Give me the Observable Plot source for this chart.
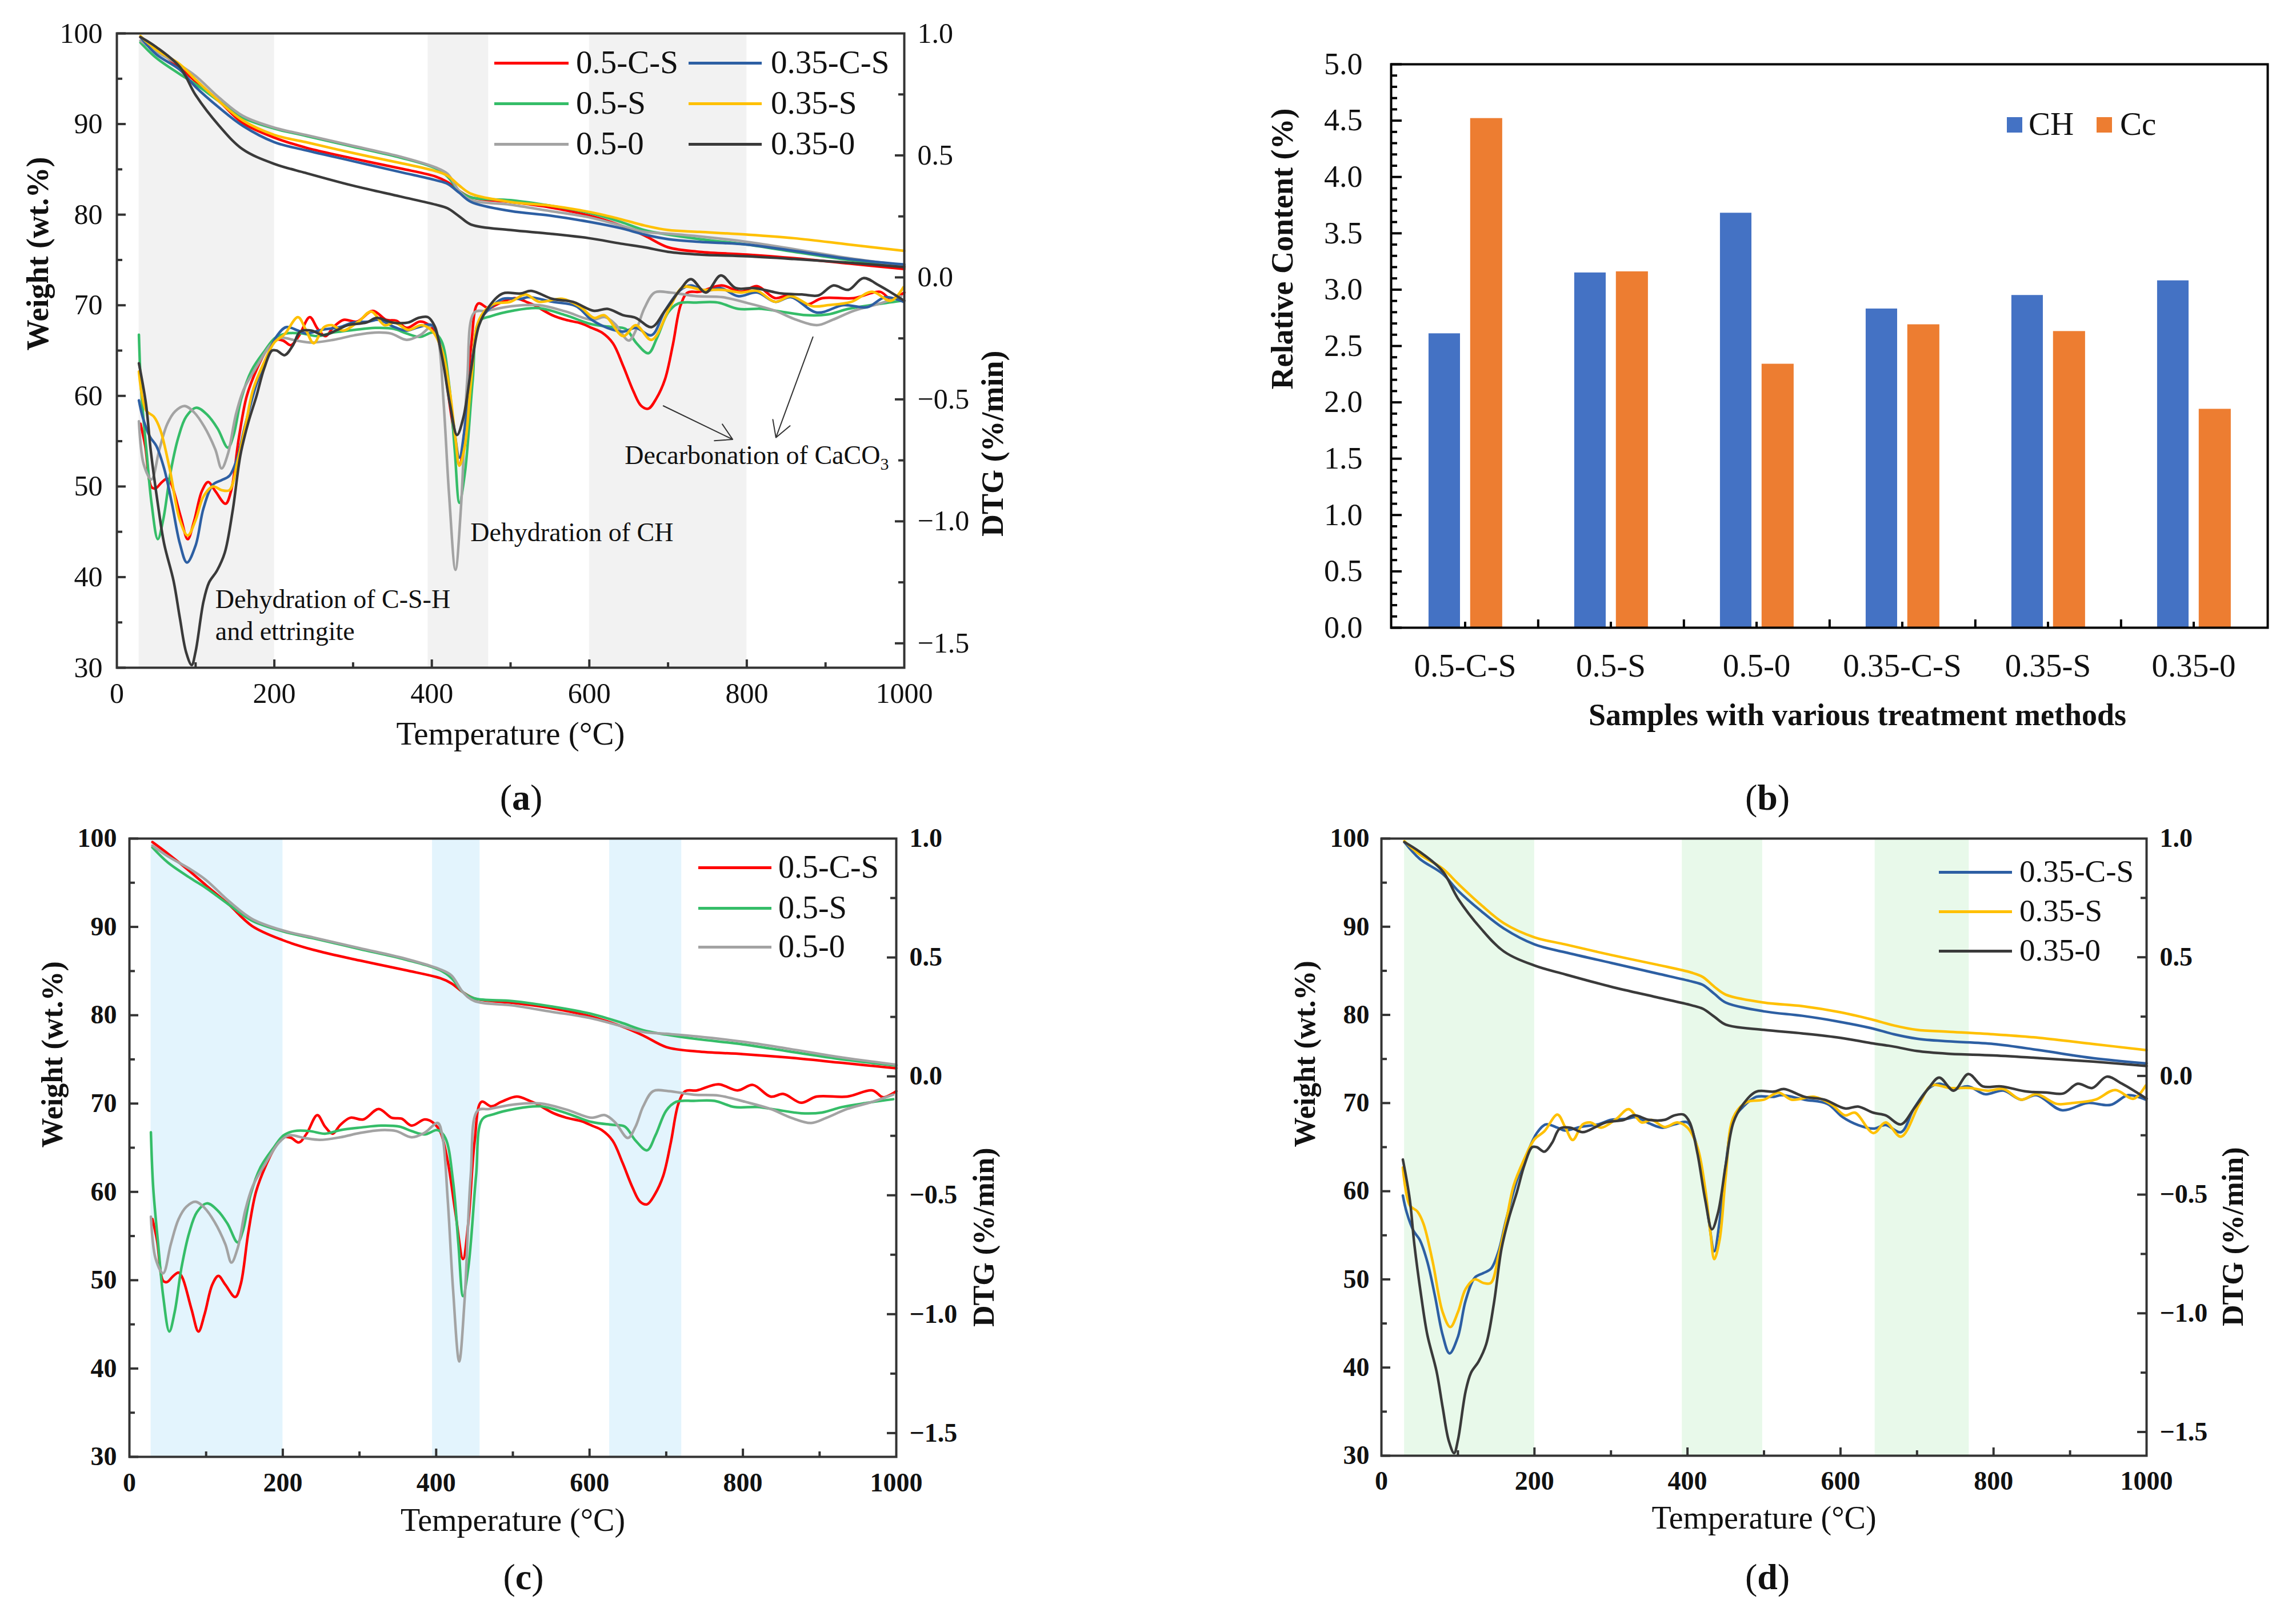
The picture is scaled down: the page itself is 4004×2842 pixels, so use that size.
<!DOCTYPE html>
<html>
<head>
<meta charset="utf-8">
<script src="https://cdn.jsdelivr.net/npm/d3@7"></script>
<script src="https://cdn.jsdelivr.net/npm/@observablehq/plot@0.6"></script>
<style>
  body { margin: 0; background: #fff; }
  #page { position: relative; width: 4004px; height: 2842px; overflow: hidden;
          font-family: "Liberation Serif", "Times New Roman", serif; color: #111; background: #fff; }
  .panel { position: absolute; }
  .key { position: absolute; white-space: nowrap; }
</style>
</head>
<body>
<div id="page"></div>
<script>
// ---- TG curves (wt.%), read on a shared temperature grid (°C)
const tgTemps = [30, 50, 80, 100, 130, 160, 200, 240, 300, 360, 405, 420, 435, 450, 500, 550, 600, 640, 670, 700, 740, 800, 860, 930, 1000];
const tg_05CS  = [99.6, 98.3, 96.2, 94.7, 92.5, 90.1, 88.5, 87.4, 86.2, 85.1, 84.2, 83.6, 82.6, 81.9, 81.4, 80.8, 79.9, 78.8, 77.7, 76.4, 75.9, 75.6, 75.2, 74.6, 74.0];
const tg_05S   = [99.0, 97.3, 95.5, 94.4, 92.5, 90.7, 89.5, 88.7, 87.5, 86.3, 85.1, 84.2, 82.6, 81.9, 81.6, 81.0, 80.2, 79.2, 78.3, 77.8, 77.3, 76.7, 75.9, 75.0, 74.3];
const tg_050   = [99.2, 98.0, 96.5, 95.3, 92.9, 90.9, 89.6, 88.8, 87.6, 86.4, 85.2, 84.5, 82.6, 81.6, 81.1, 80.4, 79.7, 78.8, 78.1, 77.9, 77.6, 77.0, 76.2, 75.2, 74.4];
const tg_035CS = [99.6, 97.7, 96.0, 94.1, 91.8, 89.8, 88.0, 87.1, 85.9, 84.7, 83.8, 83.4, 82.4, 81.4, 80.4, 79.9, 79.2, 78.5, 77.8, 77.3, 77.0, 76.7, 76.0, 75.1, 74.5];
const tg_035S  = [99.7, 98.2, 96.6, 94.9, 92.5, 90.4, 88.8, 88.0, 86.8, 85.7, 84.8, 84.3, 83.2, 82.3, 81.4, 81.0, 80.3, 79.5, 78.8, 78.3, 78.1, 77.8, 77.4, 76.7, 76.0];
const tg_0350  = [99.6, 98.5, 96.3, 93.2, 89.8, 87.2, 85.6, 84.6, 83.2, 82.0, 81.1, 80.7, 79.8, 78.9, 78.3, 77.9, 77.4, 76.8, 76.4, 75.9, 75.6, 75.4, 75.1, 74.7, 74.2];

// ---- DTG curves, [temperature °C, DTG %/min]
const dtg_05CS = [[30,-0.6],[36,-0.69],[44,-0.86],[49,-0.865],[57,-0.84],[64,-0.825],[69,-0.846],[81,-0.98],[90,-1.073],[98,-1.0],[108,-0.876],[116,-0.839],[125,-0.876],[138,-0.928],[145,-0.876],[155,-0.657],[165,-0.486],[178,-0.374],[191,-0.293],[201,-0.256],[211,-0.259],[221,-0.278],[231,-0.241],[245,-0.163],[255,-0.211],[265,-0.241],[275,-0.204],[288,-0.174],[305,-0.181],[325,-0.137],[342,-0.174],[355,-0.178],[368,-0.207],[385,-0.181],[395,-0.192],[405,-0.23],[415,-0.356],[425,-0.571],[435,-0.768],[442,-0.612],[450,-0.278],[459,-0.107],[472,-0.126],[485,-0.107],[505,-0.085],[522,-0.103],[530,-0.114],[553,-0.155],[570,-0.174],[590,-0.189],[603,-0.207],[616,-0.226],[630,-0.27],[643,-0.363],[656,-0.467],[666,-0.527],[675,-0.538],[685,-0.497],[696,-0.419],[706,-0.278],[716,-0.114],[725,-0.062],[740,-0.059],[768,-0.033],[793,-0.059],[813,-0.036],[836,-0.085],[853,-0.074],[876,-0.111],[896,-0.085],[936,-0.085],[969,-0.059],[983,-0.088],[1000,-0.062]];
const dtg_05S = [[28,-0.235],[31,-0.467],[38,-0.724],[44,-0.924],[52,-1.073],[59,-0.991],[68,-0.802],[78,-0.657],[88,-0.571],[101,-0.534],[115,-0.564],[128,-0.62],[141,-0.698],[148,-0.649],[158,-0.497],[171,-0.382],[188,-0.3],[201,-0.248],[215,-0.23],[235,-0.23],[255,-0.241],[275,-0.226],[302,-0.215],[328,-0.207],[352,-0.211],[368,-0.23],[385,-0.244],[402,-0.226],[412,-0.259],[422,-0.441],[429,-0.705],[435,-0.924],[442,-0.802],[452,-0.419],[460,-0.181],[475,-0.159],[502,-0.137],[536,-0.126],[570,-0.155],[603,-0.192],[630,-0.204],[646,-0.211],[660,-0.27],[675,-0.311],[686,-0.248],[700,-0.144],[713,-0.107],[736,-0.103],[763,-0.103],[789,-0.129],[819,-0.129],[843,-0.14],[876,-0.155],[903,-0.152],[929,-0.129],[963,-0.111],[996,-0.096]];
const dtg_050 = [[28,-0.59],[34,-0.765],[44,-0.828],[54,-0.705],[64,-0.601],[74,-0.549],[86,-0.527],[98,-0.553],[111,-0.612],[125,-0.705],[133,-0.783],[141,-0.724],[151,-0.564],[161,-0.46],[178,-0.363],[195,-0.278],[208,-0.248],[228,-0.259],[248,-0.267],[275,-0.256],[302,-0.237],[328,-0.226],[348,-0.23],[368,-0.256],[385,-0.237],[402,-0.196],[408,-0.248],[415,-0.516],[422,-0.895],[430,-1.199],[437,-0.943],[445,-0.419],[454,-0.144],[469,-0.137],[502,-0.118],[536,-0.114],[570,-0.14],[603,-0.174],[620,-0.163],[633,-0.192],[650,-0.259],[660,-0.211],[670,-0.126],[683,-0.062],[703,-0.062],[736,-0.077],[769,-0.081],[803,-0.107],[836,-0.137],[863,-0.174],[889,-0.196],[909,-0.174],[936,-0.137],[969,-0.107],[996,-0.077]];
const dtg_035CS = [[28,-0.504],[33,-0.575],[42,-0.653],[50,-0.69],[60,-0.783],[70,-0.928],[80,-1.091],[89,-1.169],[100,-1.099],[110,-0.947],[122,-0.85],[133,-0.831],[143,-0.813],[153,-0.739],[163,-0.605],[177,-0.441],[190,-0.33],[203,-0.241],[215,-0.204],[230,-0.218],[240,-0.23],[260,-0.215],[283,-0.204],[300,-0.185],[320,-0.181],[333,-0.174],[350,-0.2],[367,-0.218],[383,-0.204],[400,-0.196],[410,-0.27],[420,-0.423],[428,-0.612],[435,-0.739],[442,-0.612],[450,-0.374],[460,-0.185],[473,-0.129],[490,-0.088],[513,-0.088],[523,-0.081],[553,-0.1],[583,-0.118],[603,-0.174],[623,-0.207],[643,-0.222],[659,-0.207],[679,-0.237],[696,-0.137],[716,-0.051],[729,-0.033],[748,-0.055],[767,-0.044],[789,-0.077],[813,-0.062],[836,-0.1],[856,-0.081],[889,-0.144],[923,-0.114],[953,-0.122],[976,-0.081],[999,-0.1]];
const dtg_035S = [[28,-0.386],[37,-0.545],[47,-0.571],[55,-0.623],[67,-0.783],[80,-0.995],[90,-1.058],[100,-0.995],[110,-0.898],[122,-0.857],[133,-0.872],[143,-0.872],[153,-0.757],[163,-0.612],[173,-0.46],[187,-0.348],[200,-0.267],[213,-0.233],[230,-0.163],[240,-0.215],[250,-0.27],[263,-0.204],[273,-0.196],[287,-0.218],[307,-0.181],[323,-0.14],[340,-0.196],[353,-0.185],[370,-0.215],[387,-0.196],[400,-0.218],[413,-0.3],[423,-0.471],[430,-0.661],[435,-0.772],[442,-0.69],[450,-0.423],[460,-0.174],[477,-0.111],[500,-0.1],[519,-0.07],[536,-0.1],[566,-0.088],[589,-0.122],[606,-0.166],[619,-0.155],[643,-0.241],[659,-0.196],[679,-0.256],[703,-0.118],[719,-0.04],[743,-0.051],[769,-0.051],[793,-0.062],[813,-0.055],[836,-0.1],[856,-0.077],[883,-0.118],[903,-0.114],[933,-0.1],[959,-0.059],[983,-0.096],[999,-0.04]];
const dtg_0350 = [[28,-0.352],[37,-0.519],[43,-0.709],[52,-0.928],[60,-1.091],[72,-1.244],[80,-1.396],[88,-1.537],[95,-1.589],[100,-1.534],[110,-1.329],[117,-1.251],[127,-1.203],[137,-1.129],[147,-0.958],[157,-0.727],[167,-0.594],[177,-0.49],[187,-0.374],[197,-0.3],[203,-0.3],[213,-0.319],[223,-0.282],[233,-0.222],[247,-0.218],[263,-0.237],[280,-0.215],[293,-0.196],[317,-0.185],[330,-0.166],[350,-0.185],[370,-0.185],[383,-0.166],[395,-0.163],[403,-0.196],[413,-0.326],[423,-0.519],[432,-0.646],[440,-0.575],[450,-0.374],[460,-0.196],[473,-0.118],[490,-0.066],[513,-0.066],[526,-0.055],[553,-0.088],[579,-0.1],[606,-0.137],[623,-0.129],[643,-0.155],[659,-0.166],[679,-0.204],[696,-0.137],[716,-0.048],[729,-0.007],[748,-0.062],[767,0.008],[786,-0.044],[810,-0.044],[844,-0.066],[870,-0.07],[891,-0.074],[910,-0.033],[929,-0.051],[948,-0.003],[968,-0.033],[1000,-0.096]];

const seriesNames  = ["0.5-C-S", "0.5-S", "0.5-0", "0.35-C-S", "0.35-S", "0.35-0"];
const seriesColors = ["#ff0000", "#35bd68", "#a3a3a3", "#2d5fa3", "#ffc000", "#3a3a3a"];
const tgSeries  = [tg_05CS, tg_05S, tg_050, tg_035CS, tg_035S, tg_0350];
const dtgSeries = [dtg_05CS, dtg_05S, dtg_050, dtg_035CS, dtg_035S, dtg_0350];

// shaded temperature ranges per panel
const bandsA = [[28, 200], [395, 472], [600, 800]];
const bandsC = [[28, 200], [395, 457], [626, 720]];
const bandsD = [[30, 200], [393, 498], [645, 768]];

// annotations in panel (a)
const noteText = ["Dehydration of C-S-H", "and ettringite", "Dehydration of CH", "Decarbonation of CaCO3"];
const noteT = [125, 125, 449, 645];
const noteW = [37.5, 34.0, 44.9, 53.4];
const arrowT1 = [694, 884], arrowW1 = [58.9, 66.5];
const arrowT2 = [782, 837], arrowW2 = [55.2, 55.4];

// ---- bar chart (b)
const samples = ["0.5-C-S", "0.5-S", "0.5-0", "0.35-C-S", "0.35-S", "0.35-0"];
const chContent = [2.61, 3.15, 3.68, 2.83, 2.95, 3.08];
const ccContent = [4.52, 3.16, 2.34, 2.69, 2.63, 1.94];

const page = document.getElementById("page");
const FONT = "'Liberation Serif', 'Times New Roman', serif";
const toW = d3.scaleLinear().domain([-1.6, 1.0]).range([30, 100]); // DTG -> weight axis
const fmt1 = d3.format(".1f");

function place(node, left, top, width) {
  const div = document.createElement("div");
  div.className = "panel";
  div.style.left = left + "px";
  div.style.top = top + "px";
  div.style.width = width + "px";
  div.append(node);
  page.append(div);
}

function keyText(x, y, size, html, weight) {
  const d = document.createElement("div");
  d.className = "key";
  d.innerHTML = html;
  d.style.left = x + "px";
  d.style.top = (y - size * 0.56) + "px";
  d.style.fontSize = size + "px";
  d.style.lineHeight = (size * 1.1) + "px";
  if (weight) d.style.fontWeight = weight;
  page.append(d);
  return d;
}

function keyLine(x1, x2, y, color) {
  const d = document.createElement("div");
  d.className = "key";
  d.style.left = x1 + "px";
  d.style.top = (y - 2.5) + "px";
  d.style.width = (x2 - x1) + "px";
  d.style.height = "5px";
  d.style.background = color;
  page.append(d);
}

function panelLabel(cx, cy, letter) {
  const d = keyText(0, cy, 64, `(<b>${letter}</b>)`);
  d.style.left = cx + "px";
  d.style.transform = "translateX(-50%)";
}

function tgPlot(c) {
  const fw = c.width - c.ml - c.mr, fh = c.height - c.mt - c.mb;
  const tg = [], dtg = [];
  for (const name of c.series) {
    const i = seriesNames.indexOf(name);
    tgSeries[i].forEach((w, j) => tg.push({T: tgTemps[j], W: w, s: name}));
    dtgSeries[i].forEach(([t, v]) => dtg.push({T: t, W: toW(v), s: name}));
  }
  const tickStyle = {stroke: "#333", strokeWidth: 4};
  const marks = [
    Plot.rect(c.bands, {x1: d => d[0], x2: d => d[1], fill: c.bandColor}),
    Plot.line(tg, {x: "T", y: "W", stroke: "s", strokeWidth: 4.5, curve: "catmull-rom"}),
    Plot.line(dtg, {x: "T", y: "W", stroke: "s", strokeWidth: 4.5, curve: "catmull-rom"}),
    Plot.tickY(d3.range(30, 101, 10), {y: d => d, insetRight: fw - 16, ...tickStyle}),
    Plot.tickY(d3.range(35, 100, 10), {y: d => d, insetRight: fw - 10, ...tickStyle}),
    Plot.tickY([-1.5, -1, -0.5, 0, 0.5].map(toW), {y: d => d, insetLeft: fw - 16, ...tickStyle}),
    Plot.tickY([-1.25, -0.75, -0.25, 0.25, 0.75].map(toW), {y: d => d, insetLeft: fw - 10, ...tickStyle}),
    Plot.tickX(d3.range(200, 1000, 200), {x: d => d, insetTop: fh - 14, ...tickStyle}),
    Plot.tickX(d3.range(100, 1000, 200), {x: d => d, insetTop: fh - 9, ...tickStyle}),
    Plot.axisX(d3.range(0, 1001, 200), {label: null, tickSize: 0, tickPadding: c.padX, tickFormat: "d",
      fontSize: c.tickFont, fontWeight: c.tickWeight}),
    Plot.axisY(d3.range(30, 101, 10), {label: null, anchor: "left", tickSize: 0, tickPadding: c.padL, tickFormat: "d",
      fontSize: c.tickFont, fontWeight: c.tickWeight}),
    Plot.axisY([-1.5, -1, -0.5, 0, 0.5, 1].map(toW), {label: null, anchor: "right", tickSize: 0, tickPadding: c.padR,
      tickFormat: w => fmt1(Math.round(toW.invert(w) * 100) / 100),
      textAnchor: "start", fontSize: c.tickFont, fontWeight: c.tickWeight}),
    Plot.frame({stroke: "#333", strokeWidth: 4}),
    Plot.text(["Temperature (°C)"], {text: d => d, frameAnchor: "bottom", dy: c.xTitleDy, fontSize: c.xTitleFont}),
    Plot.text(["Weight (wt.%)"], {text: d => d, frameAnchor: "left", dx: c.yTitleDx, rotate: -90,
      fontSize: c.yTitleFont, fontWeight: "bold"}),
    Plot.text(["DTG (%/min)"], {text: d => d, frameAnchor: "right", dx: c.dtgTitleDx, rotate: -90,
      fontSize: c.yTitleFont, fontWeight: "bold"})
  ];
  if (c.notes) marks.push(...c.notes);
  return Plot.plot({
    width: c.width, height: c.height,
    marginLeft: c.ml, marginRight: c.mr, marginTop: c.mt, marginBottom: c.mb,
    x: {domain: [0, 1000], label: null},
    y: {domain: [30, 100], label: null},
    color: {domain: seriesNames, range: seriesColors},
    style: {fontFamily: FONT, fontSize: "50px", color: "#111", background: "transparent", overflow: "visible"},
    marks
  });
}

// ---- panel (a)
const noteRows = noteText.map((t, i) => ({t, T: noteT[i], W: noteW[i]}));
const arrowRows = arrowT1.map((t, i) => ({x1: t, y1: arrowW1[i], x2: arrowT2[i], y2: arrowW2[i]}));
const plotA = tgPlot({
  width: 1900, height: 1340, ml: 204, mr: 318, mt: 58, mb: 172,
  series: seriesNames, bands: bandsA, bandColor: "#f2f2f2",
  tickFont: 50, tickWeight: "normal", padX: 26, padL: 25, padR: 23,
  xTitleDy: 134, xTitleFont: 57, yTitleDx: -138, dtgTitleDx: 155, yTitleFont: 54,
  notes: [
    Plot.text(noteRows, {x: "T", y: "W", text: "t", textAnchor: "start", fontSize: 46}),
    Plot.arrow(arrowRows, {x1: "x1", y1: "y1", x2: "x2", y2: "y2", stroke: "#333", strokeWidth: 2, headLength: 24})
  ]
});
for (const t of plotA.querySelectorAll("text")) {
  if (t.textContent === "Decarbonation of CaCO3") {
    t.textContent = "Decarbonation of CaCO";
    const s = document.createElementNS("http://www.w3.org/2000/svg", "tspan");
    s.setAttribute("dy", "10");
    s.setAttribute("font-size", "30");
    s.textContent = "3";
    t.append(s);
  }
}
place(plotA, 0, 0, 1900);
const keyA = [[865, 995, 1008], [1205, 1333, 1349]];
const keyRowsA = [110, 181, 252];
const keyOrderA = [["0.5-C-S", "0.35-C-S"], ["0.5-S", "0.35-S"], ["0.5-0", "0.35-0"]];
keyOrderA.forEach((row, r) => row.forEach((name, col) => {
  const [x1, x2, xt] = keyA[col];
  keyLine(x1, x2, keyRowsA[r], seriesColors[seriesNames.indexOf(name)]);
  keyText(xt, keyRowsA[r], 57, name);
}));
panelLabel(912, 1397, "a");

// ---- panel (c)
const plotC = tgPlot({
  width: 1900, height: 1400, ml: 226, mr: 332, mt: 67, mb: 251,
  series: ["0.5-C-S", "0.5-S", "0.5-0"], bands: bandsC, bandColor: "#e3f4fd",
  tickFont: 46, tickWeight: "bold", padX: 28, padL: 22, padR: 23,
  xTitleDy: 129, xTitleFont: 56, yTitleDx: -134, dtgTitleDx: 154, yTitleFont: 52
});
place(plotC, 0, 1400, 1900);
["0.5-C-S", "0.5-S", "0.5-0"].forEach((name, r) => {
  const y = [1518, 1589, 1657][r];
  keyLine(1222, 1350, y, seriesColors[seriesNames.indexOf(name)]);
  keyText(1362, y, 56, name);
});
panelLabel(916, 2761, "c");

// ---- panel (d)
const plotD = tgPlot({
  width: 1954, height: 1400, ml: 367, mr: 248, mt: 67, mb: 253,
  series: ["0.35-C-S", "0.35-S", "0.35-0"], bands: bandsD, bandColor: "#e8f9ea",
  tickFont: 46, tickWeight: "bold", padX: 27, padL: 21, padR: 23,
  xTitleDy: 127, xTitleFont: 56, yTitleDx: -133, dtgTitleDx: 152, yTitleFont: 52
});
place(plotD, 2050, 1400, 1954);
["0.35-C-S", "0.35-S", "0.35-0"].forEach((name, r) => {
  const y = [1526, 1595, 1664][r];
  keyLine(3393, 3521, y, seriesColors[seriesNames.indexOf(name)]);
  keyText(3534, y, 55, name);
});
panelLabel(3093, 2761, "d");

// ---- panel (b): bars
const bW = 1904, bH = 1340, bML = 334, bMR = 36, bMT = 112, bMB = 242;
const bFW = bW - bML - bMR, bFH = bH - bMT - bMB;
const bw = bFW / samples.length;
const chRows = samples.map((s, i) => ({s, v: chContent[i]}));
const ccRows = samples.map((s, i) => ({s, v: ccContent[i]}));
const bTick = {stroke: "#000", strokeWidth: 4};
const plotB = Plot.plot({
  width: bW, height: bH, marginLeft: bML, marginRight: bMR, marginTop: bMT, marginBottom: bMB,
  x: {domain: samples, padding: 0, label: null},
  y: {domain: [0, 5], label: null},
  style: {fontFamily: FONT, fontSize: "54px", color: "#111", background: "transparent", overflow: "visible"},
  marks: [
    Plot.barY(chRows, {x: "s", y: "v", fill: "#4472c4", insetLeft: bw * 0.25, insetRight: bw * 0.532}),
    Plot.barY(ccRows, {x: "s", y: "v", fill: "#ed7d31", insetLeft: bw * 0.535, insetRight: bw * 0.243}),
    Plot.tickY(d3.range(0, 5.01, 0.5), {y: d => d, insetRight: bFW - 19, ...bTick}),
    Plot.tickY(d3.range(0, 50).filter(i => i % 5).map(i => i / 10), {y: d => d, insetRight: bFW - 11, ...bTick}),
    Plot.tickX(samples.slice(0, -1), {x: d => d, dx: bw / 2, insetTop: bFH - 14, ...bTick}),
    Plot.tickX(samples, {x: d => d, insetTop: bFH - 10, ...bTick}),
    Plot.axisY(d3.range(0, 5.01, 0.5), {label: null, tickSize: 0, tickPadding: 50, tickFormat: ".1f", fontSize: 54}),
    Plot.axisX(samples, {label: null, tickSize: 0, tickPadding: 45, fontSize: 57}),
    Plot.frame({stroke: "#000", strokeWidth: 4}),
    Plot.text(["Samples with various treatment methods"], {text: d => d, frameAnchor: "bottom", dx: 49, dy: 170,
      fontSize: 54, fontWeight: "bold"}),
    Plot.text(["Relative Content (%)"], {text: d => d, frameAnchor: "left", dx: -190, dy: 76, rotate: -90,
      fontSize: 54, fontWeight: "bold"})
  ]
});
place(plotB, 2100, 0, bW);
[["CH", "#4472c4", 3512, 3550], ["Cc", "#ed7d31", 3669, 3710]].forEach(([name, color, sx, tx]) => {
  const sq = document.createElement("div");
  sq.className = "key";
  Object.assign(sq.style, {left: sx + "px", top: "205px", width: "27px", height: "27px", background: color});
  page.append(sq);
  keyText(tx, 218, 57, name);
});
panelLabel(3093, 1397, "b");
</script>
</body>
</html>
